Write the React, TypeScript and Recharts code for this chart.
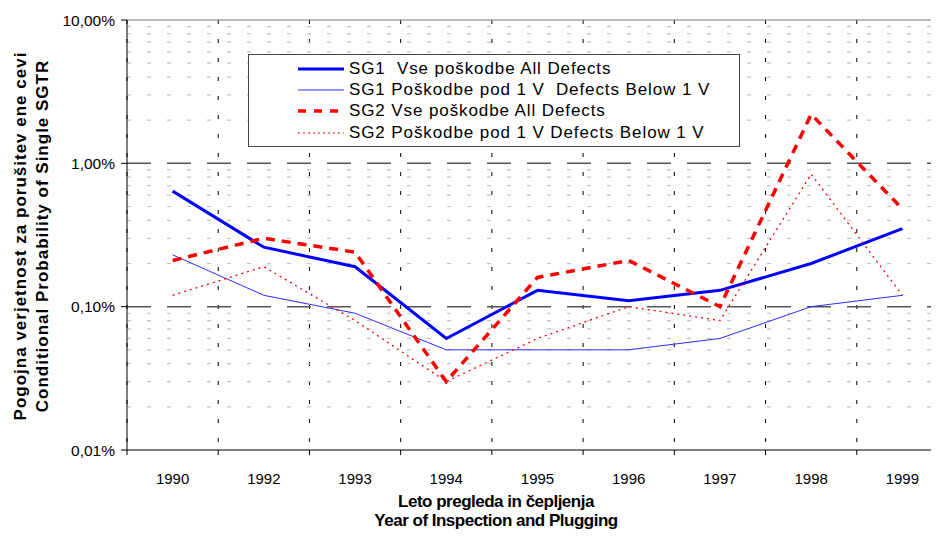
import { LineChart, Line, XAxis, YAxis, CartesianGrid, ReferenceLine, Legend } from 'recharts';

const years = ['1990', '1992', '1993', '1994', '1995', '1996', '1997', '1998', '1999'];
// vrednosti v %
const sg1All = [0.64, 0.26, 0.19, 0.06, 0.13, 0.11, 0.13, 0.2, 0.35];
const sg1Below = [0.23, 0.12, 0.09, 0.05, 0.05, 0.05, 0.06, 0.1, 0.12];
const sg2All = [0.21, 0.3, 0.24, 0.03, 0.16, 0.21, 0.1, 2.2, 0.48];
const sg2Below = [0.12, 0.19, 0.08, 0.03, 0.06, 0.1, 0.08, 0.84, 0.12];

const yTicks = [0.01, 0.1, 1, 10];
const yTickLabels = ['0,01%', '0,10%', '1,00%', '10,00%'];
const majorLines = [0.1, 1];
const minorLines = [
  0.02, 0.03, 0.04, 0.05, 0.06, 0.07, 0.08, 0.09,
  0.2, 0.3, 0.4, 0.5, 0.6, 0.7, 0.8, 0.9,
  2, 3, 4, 5, 6, 7, 8, 9,
];

const series = [
  { key: 'sg1All', name: 'SG1  Vse poškodbe All Defects', color: '#0000ff', legendColor: '#0000ff', width: 3, dash: undefined, legendDash: undefined, legendWidth: 3 },
  { key: 'sg1Below', name: 'SG1 Poškodbe pod 1 V  Defects Below 1 V', color: '#2b2bff', legendColor: '#6f6fff', width: 1, dash: undefined, legendDash: undefined, legendWidth: 1.5 },
  { key: 'sg2All', name: 'SG2 Vse poškodbe All Defects', color: '#ff0000', legendColor: '#ff0000', width: 3.5, dash: '9 7', legendDash: '8 8', legendWidth: 3.5 },
  { key: 'sg2Below', name: 'SG2 Poškodbe pod 1 V Defects Below 1 V', color: '#ff0000', legendColor: '#ff0000', width: 1.3, dash: '2 4', legendDash: '2 3', legendWidth: 1 },
];

// kategorije na sredini intervalov [i, i+1]
const data = years.map((y, i) => ({
  x: i + 0.5,
  year: y,
  sg1All: sg1All[i],
  sg1Below: sg1Below[i],
  sg2All: sg2All[i],
  sg2Below: sg2Below[i],
}));

const font = '"Liberation Sans", Arial, sans-serif';

function LegendBox() {
  return (
    <div
      style={{
        width: 492,
        height: 93,
        boxSizing: 'border-box',
        border: '1px solid #444',
        background: '#fff',
        padding: '3px 0 0 49px',
        fontFamily: font,
        fontSize: 17,
        letterSpacing: 0.9,
        color: '#000',
      }}
    >
      {series.map(s => (
        <div key={s.key} style={{ display: 'flex', alignItems: 'center', height: 21.3 }}>
          <svg width={46} height={10} style={{ marginRight: 5, flex: 'none' }}>
            <line
              x1={0}
              x2={46}
              y1={5}
              y2={5}
              stroke={s.legendColor}
              strokeWidth={s.legendWidth}
              strokeDasharray={s.legendDash}
            />
          </svg>
          <span style={{ whiteSpace: 'pre' }}>{s.name}</span>
        </div>
      ))}
    </div>
  );
}

export default function App() {
  return (
    <div style={{ position: 'relative', margin: -8, width: 939, height: 539, overflow: 'hidden', background: '#fff' }}>
      <LineChart
        width={960}
        height={539}
        data={data}
        margin={{ top: 20, right: 12, left: 57, bottom: 0 }}
      >
        <CartesianGrid horizontal={false} stroke="#000" strokeDasharray="4 15" />
        {minorLines.map(v => (
          <ReferenceLine key={v} y={v} stroke="#c4c4c4" strokeWidth={1.2} strokeDasharray="4 16" />
        ))}
        {majorLines.map(v => (
          <ReferenceLine key={v} y={v} stroke="#555" strokeWidth={1.5} strokeDasharray="24 16" />
        ))}
        <ReferenceLine y={10} stroke="#777" />
        <XAxis
          dataKey="x"
          type="number"
          domain={[0, 9]}
          ticks={[0, 1, 2, 3, 4, 5, 6, 7, 8, 9]}
          tickFormatter={() => ''}
          stroke="#000"
          tickSize={5}
          height={8}
          allowDataOverflow
        />
        <XAxis
          xAxisId="lbl"
          dataKey="x"
          type="number"
          domain={[0, 9]}
          ticks={data.map(d => d.x)}
          tickFormatter={(v: number) => years[Math.floor(v)]}
          axisLine={false}
          tickLine={false}
          tickSize={0}
          tickMargin={15}
          height={81}
          tick={{ fill: '#000', fontSize: 15, fontFamily: font }}
          allowDataOverflow
        />
        <YAxis
          scale="log"
          type="number"
          domain={[0.01, 10]}
          ticks={yTicks}
          tickFormatter={(v: number) => yTickLabels[yTicks.indexOf(v)] ?? ''}
          stroke="#000"
          width={70}
          tickSize={6}
          tickMargin={6}
          tick={{ fill: '#000', fontSize: 15.5, fontFamily: font }}
          allowDataOverflow
        />
        <Legend
          layout="vertical"
          align="center"
          verticalAlign="middle"
          wrapperStyle={{ position: 'absolute', left: 248, top: 54, width: 492, height: 93 }}
          content={() => <LegendBox />}
        />
        {series.map(s => (
          <Line
            key={s.key}
            dataKey={s.key}
            name={s.name}
            type="linear"
            stroke={s.color}
            strokeWidth={s.width}
            strokeDasharray={s.dash}
            dot={false}
            activeDot={false}
            isAnimationActive={false}
          />
        ))}
      </LineChart>

      <div
        style={{
          position: 'absolute',
          left: 32,
          top: 236,
          transform: 'translate(-50%, -50%) rotate(-90deg)',
          fontFamily: font,
          fontWeight: 'bold',
          fontSize: 17,
          letterSpacing: 1,
          lineHeight: '22px',
          textAlign: 'center',
          whiteSpace: 'nowrap',
        }}
      >
        Pogojna verjetnost za porušitev ene cevi
        <br />
        Conditional Probability of Single SGTR
      </div>
      <div
        style={{
          position: 'absolute',
          left: 496,
          top: 511,
          transform: 'translate(-50%, -50%)',
          fontFamily: font,
          fontWeight: 'bold',
          fontSize: 17,
          letterSpacing: -0.5,
          lineHeight: '19px',
          textAlign: 'center',
          whiteSpace: 'nowrap',
        }}
      >
        Leto pregleda in čepljenja
        <br />
        Year of Inspection and Plugging
      </div>
    </div>
  );
}
